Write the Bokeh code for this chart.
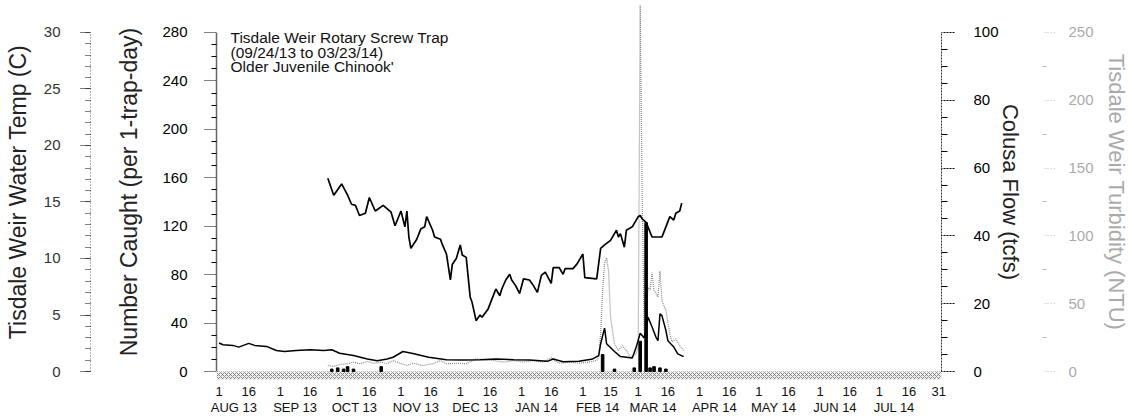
import pandas as pd
from bokeh.plotting import figure
from bokeh.models import Range1d, LinearAxis, FixedTicker, Title, Label
from bokeh.embed import file_html
from bokeh.resources import INLINE

ORIGIN = "2013-08-01"

# ---------------- data ----------------
temp_dates = ["2013-09-25", "2013-09-28", "2013-10-02", "2013-10-05", "2013-10-07", "2013-10-09",
              "2013-10-11", "2013-10-14", "2013-10-16", "2013-10-19", "2013-10-23", "2013-10-27",
              "2013-10-29", "2013-11-01", "2013-11-03", "2013-11-04", "2013-11-05", "2013-11-06",
              "2013-11-09", "2013-11-11", "2013-11-13", "2013-11-14", "2013-11-17", "2013-11-18",
              "2013-11-21", "2013-11-22", "2013-11-24", "2013-11-26", "2013-11-27", "2013-11-29",
              "2013-12-01", "2013-12-02", "2013-12-04", "2013-12-06", "2013-12-07", "2013-12-09",
              "2013-12-11", "2013-12-12", "2013-12-15", "2013-12-17", "2013-12-19", "2013-12-21",
              "2013-12-22", "2013-12-24", "2013-12-26", "2013-12-27", "2013-12-29", "2013-12-31",
              "2014-01-02", "2014-01-05", "2014-01-07", "2014-01-09", "2014-01-11", "2014-01-13",
              "2014-01-16", "2014-01-17", "2014-01-20", "2014-01-22", "2014-01-23", "2014-01-27",
              "2014-01-29", "2014-02-01", "2014-02-02", "2014-02-08", "2014-02-10", "2014-02-12",
              "2014-02-15", "2014-02-17", "2014-02-18", "2014-02-19", "2014-02-20", "2014-02-22",
              "2014-02-23", "2014-02-26", "2014-03-01", "2014-03-02", "2014-03-03", "2014-03-05",
              "2014-03-08", "2014-03-10", "2014-03-13", "2014-03-15", "2014-03-17", "2014-03-19",
              "2014-03-20", "2014-03-22", "2014-03-23"]
temp_vals = [17.1, 15.6, 16.6, 15.6, 14.8, 14.7,
             13.8, 14.0, 15.4, 14.2, 14.7, 14.1,
             12.9, 14.2, 12.8, 14.2, 11.9, 10.9,
             11.7, 12.6, 12.8, 13.7, 12.5, 11.9,
             11.7, 11.2, 10.4, 8.1, 9.5, 10.0,
             11.2, 10.3, 10.1, 6.6, 6.1, 4.5,
             5.0, 4.8, 5.5, 6.4, 7.3, 6.7,
             7.3, 8.1, 8.6, 8.1, 7.6, 6.9,
             8.2, 8.1, 7.6, 7.0, 8.5, 8.8,
             7.8, 9.2, 9.2, 8.6, 9.1, 9.1,
             9.5, 10.4, 8.3, 8.2, 10.9, 11.2,
             11.6, 12.2, 12.5, 11.9, 12.2, 11.0,
             12.5, 12.8, 13.7, 13.8, 13.5, 13.2,
             11.9, 11.9, 11.9, 12.8, 13.7, 13.4,
             14.0, 14.2, 14.9]

flow_dates = ["2013-08-01", "2013-08-03", "2013-08-08", "2013-08-11", "2013-08-16", "2013-08-19",
              "2013-08-25", "2013-08-30", "2013-09-03", "2013-09-09", "2013-09-16", "2013-09-23",
              "2013-09-27", "2013-10-01", "2013-10-08", "2013-10-15", "2013-10-20", "2013-10-25",
              "2013-10-28", "2013-11-02", "2013-11-07", "2013-11-15", "2013-11-24", "2013-12-02",
              "2013-12-11", "2013-12-19", "2013-12-28", "2014-01-05", "2014-01-14", "2014-01-17",
              "2014-01-22", "2014-01-30", "2014-02-06", "2014-02-09", "2014-02-10", "2014-02-12",
              "2014-02-13", "2014-02-17", "2014-02-20", "2014-02-26", "2014-02-28", "2014-03-02",
              "2014-03-03", "2014-03-04", "2014-03-06", "2014-03-08", "2014-03-10", "2014-03-11",
              "2014-03-12", "2014-03-13", "2014-03-15", "2014-03-16", "2014-03-19", "2014-03-21",
              "2014-03-24"]
flow_vals = [8.4, 7.9, 7.7, 7.2, 8.3, 7.7,
             7.4, 6.2, 5.9, 6.2, 6.4, 6.2,
             6.4, 5.4, 4.7, 3.7, 3.2, 3.7,
             4.2, 5.9, 5.3, 4.2, 3.5, 3.4,
             3.5, 3.7, 3.5, 3.4, 3.0, 3.7,
             2.9, 3.0, 3.7, 4.7, 8.2, 12.8,
             8.2, 5.9, 4.4, 4.0, 7.2, 11.3,
             10.6, 9.9, 16.0, 13.1, 10.1, 9.1,
             17.0, 16.5, 12.1, 9.1, 7.2, 5.2,
             4.4]

turb_dates = ["2013-09-25", "2013-09-28", "2013-10-01", "2013-10-05", "2013-10-08", "2013-10-11",
              "2013-10-15", "2013-10-18", "2013-10-22", "2013-10-25", "2013-10-28", "2013-10-30",
              "2013-11-04", "2013-11-07", "2013-11-12", "2013-11-17", "2013-11-21", "2013-11-24",
              "2013-11-29", "2013-12-04", "2013-12-09", "2013-12-13", "2013-12-18", "2013-12-23",
              "2013-12-28", "2014-01-02", "2014-01-07", "2014-01-12", "2014-01-16", "2014-01-20",
              "2014-01-25", "2014-01-30", "2014-02-04", "2014-02-08", "2014-02-09", "2014-02-10",
              "2014-02-11", "2014-02-12", "2014-02-13", "2014-02-14", "2014-02-15", "2014-02-17",
              "2014-02-19", "2014-02-21", "2014-02-23", "2014-02-25", "2014-02-28", "2014-03-01",
              "2014-03-02", "2014-03-03", "2014-03-04", "2014-03-05", "2014-03-06", "2014-03-07",
              "2014-03-08", "2014-03-09", "2014-03-11", "2014-03-12", "2014-03-13", "2014-03-15",
              "2014-03-17", "2014-03-18", "2014-03-20", "2014-03-22", "2014-03-24"]
turb_vals = [4.4, 3.7, 5.2, 5.7, 6.9, 5.7,
             7.4, 6.1, 6.9, 5.7, 8.1, 6.9,
             4.4, 6.1, 4.4, 5.7, 8.1, 5.7,
             6.1, 5.7, 9.4, 8.6, 8.1, 6.9,
             8.1, 6.9, 8.1, 6.9, 10.1, 6.1,
             6.9, 6.1, 6.9, 8.1, 10.5, 28,
             60, 80, 84, 74, 40, 20,
             15.5, 19, 15.5, 10.5, 13, 18,
             270, 130, 30, 45, 62, 60,
             73, 60, 55, 74, 52, 45,
             28, 22, 24, 19, 15.5]

catch_dates = ["2013-09-27", "2013-09-30", "2013-10-03", "2013-10-05", "2013-10-08", "2013-10-22",
               "2014-02-11", "2014-02-17", "2014-02-27", "2014-03-02", "2014-03-05", "2014-03-07",
               "2014-03-09", "2014-03-12", "2014-03-15"]
catch_vals = [2, 3, 2, 4, 2, 4,
              14, 2, 3, 25, 123, 3,
              4, 3, 2]

tick_dates = ["2013-08-01", "2013-08-16", "2013-09-01", "2013-09-16", "2013-10-01", "2013-10-16",
              "2013-11-01", "2013-11-16", "2013-12-01", "2013-12-16", "2014-01-01", "2014-01-16",
              "2014-02-01", "2014-02-15", "2014-03-01", "2014-03-16", "2014-04-01", "2014-04-16",
              "2014-05-01", "2014-05-16", "2014-06-01", "2014-06-16", "2014-07-01", "2014-07-16",
              "2014-07-31"]
tick_labels = ["1", "16", "1", "16", "1", "16", "1", "16", "1", "16", "1", "16",
               "1", "15", "1", "16", "1", "16", "1", "16", "1", "16", "1", "16", "31"]
month_starts = ["2013-08-01", "2013-09-01", "2013-10-01", "2013-11-01", "2013-12-01", "2014-01-01",
                "2014-02-01", "2014-03-01", "2014-04-01", "2014-05-01", "2014-06-01", "2014-07-01"]
month_labels = ["AUG 13", "SEP 13", "OCT 13", "NOV 13", "DEC 13", "JAN 14",
                "FEB 14", "MAR 14", "APR 14", "MAY 14", "JUN 14", "JUL 14"]

count_ticks = [0, 40, 80, 120, 160, 200, 240, 280]
temp_ticks = [0, 5, 10, 15, 20, 25, 30]
flow_ticks = [0, 20, 40, 60, 80, 100]
turb_ticks = [0, 50, 100, 150, 200, 250]

title_lines = ["Tisdale Weir Rotary Screw Trap", "(09/24/13 to 03/23/14)", "Older Juvenile Chinook'"]

# ---------------- helpers ----------------
base = pd.Timestamp(ORIGIN)


def to_day(dates):
    return [(pd.Timestamp(d) - base).days for d in dates]


FONT = "Liberation Sans"
COUNT_MAX, TEMP_MAX, FLOW_MAX, TURB_MAX = count_ticks[-1], temp_ticks[-1], flow_ticks[-1], turb_ticks[-1]
LO, HI = -6.6, 303.1
X0, X1 = -1.3, 365.4


def scaled(mx):
    return Range1d(LO * mx / COUNT_MAX, HI * mx / COUNT_MAX)


p = figure(width=1131, height=419, x_range=Range1d(X0, X1), y_range=Range1d(LO, HI),
           output_backend="svg", toolbar_location=None,
           min_border_left=216, min_border_right=187, min_border_top=4, min_border_bottom=40,
           background_fill_color="white", border_fill_color="white")
p.outline_line_color = None
p.grid.visible = False
p.extra_y_ranges = {"temp": scaled(TEMP_MAX), "flow": scaled(FLOW_MAX), "turb": scaled(TURB_MAX)}

# hatched strip under the zero line
p.quad(left=[X0], right=[X1], bottom=[LO], top=[0], fill_color="#f2f2f2", line_color=None,
       hatch_pattern="x", hatch_color="#7a7a7a", hatch_scale=4, hatch_weight=0.9)

# turbidity (dotted gray)
p.line(to_day(turb_dates), turb_vals, y_range_name="turb", line_color="#8a8a8a",
       line_width=1.2, line_dash="1 1")
# flow
p.line(to_day(flow_dates), flow_vals, y_range_name="flow", line_color="black", line_width=1.5)
# temperature
p.line(to_day(temp_dates), temp_vals, y_range_name="temp", line_color="black", line_width=1.7)
# catch bars
p.vbar(x=to_day(catch_dates), top=catch_vals, bottom=0, width=1.3, fill_color="black",
       line_color="black")


# ---------------- axes ----------------
def style_y(ax, ticks, minor, label, color="black", title_color="#222222", title_size="23px"):
    ax.ticker = FixedTicker(ticks=ticks, minor_ticks=minor)
    ax.bounds = (ticks[0], ticks[-1])
    ax.axis_label = label
    ax.axis_label_text_font = FONT
    ax.axis_label_text_font_size = title_size
    ax.axis_label_text_font_style = "normal"
    ax.axis_label_text_color = title_color
    ax.major_label_text_font = FONT
    ax.major_label_text_font_size = "15px"
    ax.major_label_text_color = color
    ax.major_tick_in = 0
    ax.minor_tick_in = 0


cax = p.yaxis[0]
style_y(cax, count_ticks, [v for v in range(0, COUNT_MAX + 1, 10) if v % 40], "Number Caught (per 1-trap-day)")
cax.axis_line_color = "#666666"
cax.axis_line_width = 1.5
cax.major_tick_out = 12
cax.major_tick_line_dash = "1 1"
cax.minor_tick_out = 5
cax.major_label_standoff = 17
cax.axis_label_standoff = 17

p.add_layout(Title(text=" ", text_font_size="1px", standoff=20), "left")

tax = LinearAxis(y_range_name="temp")
style_y(tax, temp_ticks, list(range(0, TEMP_MAX + 1)), "Tisdale Weir Water Temp (C)", color="#333333")
tax.axis_line_color = "#666666"
tax.axis_line_dash = "1 2"
tax.major_tick_out = 10
tax.major_tick_line_dash = "1 1"
tax.minor_tick_out = 5
tax.minor_tick_line_dash = "1 1"
tax.major_label_standoff = 20
tax.axis_label_standoff = 10
p.add_layout(tax, "left")

fax = LinearAxis(y_range_name="flow")
style_y(fax, flow_ticks, [v for v in range(0, FLOW_MAX + 1, 5) if v % 20], "Colusa Flow (tcfs)",
        title_size="22px")
fax.axis_line_color = "#333333"
fax.axis_line_dash = "2 1"
fax.major_tick_out = 13
fax.major_tick_line_dash = "2 1"
fax.minor_tick_out = 6
fax.major_label_standoff = 19
fax.axis_label_standoff = -4
p.add_layout(fax, "right")

p.add_layout(Title(text=" ", text_font_size="1px", standoff=14), "right")

uax = LinearAxis(y_range_name="turb")
style_y(uax, turb_ticks, [v for v in range(0, TURB_MAX + 1, 25) if v % 50], "Tisdale Weir Turbidity (NTU)",
        color="#aaaaaa", title_color="#aaaaaa", title_size="22px")
uax.axis_line_color = None
uax.major_tick_out = 12
uax.major_tick_line_color = "#bbbbbb"
uax.major_tick_line_dash = "1 2"
uax.minor_tick_out = 4
uax.minor_tick_line_color = "#bbbbbb"
uax.major_label_standoff = 14
uax.axis_label_standoff = 7
p.add_layout(uax, "right")

# x axes: day ticks and month names
xax = p.xaxis[0]
tdays = to_day(tick_dates)
xax.ticker = FixedTicker(ticks=tdays, minor_ticks=[])
xax.major_label_overrides = {d: lab for d, lab in zip(tdays, tick_labels)}
xax.axis_line_color = None
xax.major_tick_line_color = None
xax.minor_tick_line_color = None
xax.major_tick_out = 0
xax.major_tick_in = 0
xax.minor_tick_out = 0
xax.major_label_standoff = 7
xax.major_label_text_font = FONT
xax.major_label_text_font_size = "13px"
xax.major_label_text_color = "#111111"

mdays = [d + 7.5 for d in to_day(month_starts)]
max_ = LinearAxis(ticker=FixedTicker(ticks=mdays, minor_ticks=[]))
max_.major_label_overrides = {d: lab for d, lab in zip(mdays, month_labels)}
max_.axis_line_color = None
max_.major_tick_line_color = None
max_.minor_tick_line_color = None
max_.major_tick_out = 0
max_.major_tick_in = 0
max_.minor_tick_out = 0
max_.major_label_standoff = 1
max_.major_label_text_font = FONT
max_.major_label_text_font_size = "13px"
max_.major_label_text_color = "#111111"
p.add_layout(max_, "below")

# title block
for i, line in enumerate(title_lines):
    p.add_layout(Label(x=5.8, y=276 - 12.2 * i, text=line, text_font=FONT, text_font_size="15.5px",
                       text_baseline="middle", text_color="#111111"))

open("out.html", "w").write(file_html(p, INLINE))
